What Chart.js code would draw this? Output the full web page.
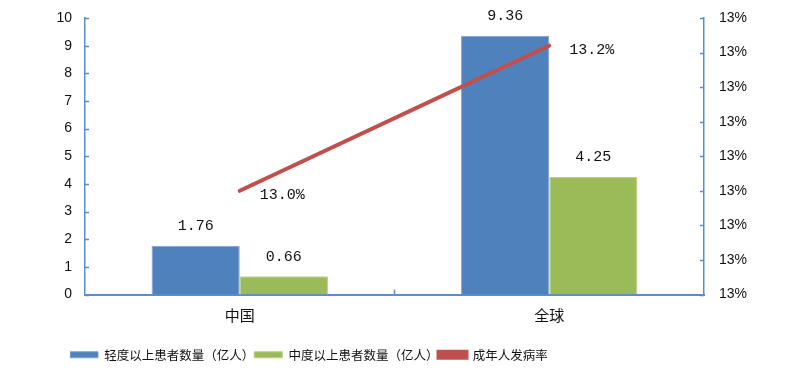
<!DOCTYPE html>
<html>
<head>
<meta charset="utf-8">
<script src="https://cdn.jsdelivr.net/npm/chart.js@4.4.3/dist/chart.umd.min.js"></script>
<style>
  html, body { margin: 0; padding: 0; background: #ffffff; }
  #wrap { width: 800px; height: 386px; position: relative; }
</style>
</head>
<body>
<div id="wrap"><canvas id="chart" width="800" height="386"></canvas></div>
<script>
const categories = ["中国", "全球"];
const mildPatients = [1.76, 9.36];
const moderatePatients = [0.66, 4.25];
const adultRate = [0.13, 0.1321];
const seriesNames = ["轻度以上患者数量（亿人）", "中度以上患者数量（亿人）", "成年人发病率"];

const axisColor = "#5b8dcc";
const textColor = "#111111";
const cjkFont = "'Noto Sans CJK SC', 'Noto Sans', sans-serif";
const numFont = "'Liberation Mono', 'DejaVu Sans Mono', monospace";

// small inward tick marks like the original office chart
const innerTicks = {
  id: "innerTicks",
  afterDraw(chart) {
    const { ctx, chartArea, scales } = chart;
    ctx.save();
    ctx.strokeStyle = axisColor;
    ctx.lineWidth = 1.5;
    ctx.beginPath();
    scales.y.ticks.forEach((t) => {
      const y = Math.round(scales.y.getPixelForValue(t.value)) + 0.5;
      ctx.moveTo(chartArea.left, y);
      ctx.lineTo(chartArea.left + 4, y);
    });
    scales.y1.ticks.forEach((t) => {
      const y = Math.round(scales.y1.getPixelForValue(t.value)) + 0.5;
      ctx.moveTo(chartArea.right, y);
      ctx.lineTo(chartArea.right - 4, y);
    });
    const x0 = scales.x.getPixelForValue(0);
    const x1 = scales.x.getPixelForValue(1);
    const mid = (x0 + x1) / 2;
    ctx.moveTo(mid, chartArea.bottom);
    ctx.lineTo(mid, chartArea.bottom - 5);
    ctx.stroke();
    ctx.restore();
  },
};

// value labels on bars and line points
const valueLabels = {
  id: "valueLabels",
  afterDatasetsDraw(chart) {
    const { ctx } = chart;
    ctx.save();
    ctx.fillStyle = textColor;
    ctx.font = "15px " + numFont;
    chart.data.datasets.forEach((ds, di) => {
      const meta = chart.getDatasetMeta(di);
      meta.data.forEach((el, i) => {
        const v = ds.data[i];
        if (ds.type === "line") {
          ctx.textAlign = "left";
          ctx.textBaseline = "middle";
          ctx.fillText((v * 100).toFixed(1) + "%", el.x + 20, el.y + 4);
        } else {
          ctx.textAlign = "center";
          ctx.textBaseline = "bottom";
          ctx.fillText(v.toFixed(2), el.x, el.y - 12);
        }
      });
    });
    ctx.restore();
  },
};

// the legend sits left of centre in the original
const legendShift = {
  id: "legendShift",
  afterLayout(chart) {
    chart.legend.left = 70;
  },
};

function fitVertical(width) {
  return (scale) => {
    scale.width = width;
    scale.paddingTop = 0;
    scale.paddingBottom = 0;
  };
}

new Chart(document.getElementById("chart"), {
  data: {
    labels: categories,
    datasets: [
      {
        type: "bar",
        label: seriesNames[0],
        data: mildPatients,
        backgroundColor: "#4f81bd",
        borderColor: "#7ea3d3",
        borderWidth: 1,
        yAxisID: "y",
        order: 2,
      },
      {
        type: "bar",
        label: seriesNames[1],
        data: moderatePatients,
        backgroundColor: "#9bbb59",
        borderColor: "#b8d08a",
        borderWidth: 1,
        yAxisID: "y",
        order: 2,
      },
      {
        type: "line",
        label: seriesNames[2],
        data: adultRate,
        borderColor: "#c0504d",
        backgroundColor: "#c0504d",
        borderWidth: 4,
        pointRadius: 0,
        borderCapStyle: "round",
        yAxisID: "y1",
        order: 1,
      },
    ],
  },
  options: {
    responsive: false,
    animation: false,
    layout: { padding: { top: 18, left: 0, right: 0, bottom: 15 } },
    datasets: {
      bar: { barPercentage: 1, categoryPercentage: 0.57 },
    },
    scales: {
      x: {
        offset: true,
        grid: { display: false, drawTicks: false },
        border: { display: true, color: axisColor, width: 2 },
        ticks: { color: textColor, font: { family: cjkFont, size: 15 }, padding: 12 },
        afterFit(scale) { scale.height = 54; },
      },
      y: {
        position: "left",
        min: 0,
        max: 10,
        ticks: { stepSize: 1, color: textColor, font: { family: "'Liberation Sans', Arial, sans-serif", size: 14 }, padding: 13 },
        grid: { display: false, drawTicks: false },
        border: { display: true, color: axisColor, width: 1.5 },
        afterFit: fitVertical(85),
      },
      y1: {
        position: "right",
        min: 0.1285,
        max: 0.1325,
        ticks: {
          stepSize: 0.0005,
          color: textColor,
          font: { family: "'Liberation Sans', Arial, sans-serif", size: 14 },
          padding: 15,
          callback(value) { return Math.round(value * 100) + "%"; },
        },
        grid: { display: false, drawTicks: false },
        border: { display: true, color: axisColor, width: 1.5 },
        afterFit: fitVertical(96),
      },
    },
    plugins: {
      legend: {
        position: "bottom",
        align: "start",
        labels: {
          color: textColor,
          font: { family: cjkFont, size: 12.5 },
          boxWidth: 28,
          boxHeight: 6,
          padding: 0,
          sort: (a, b) => a.datasetIndex - b.datasetIndex,
        },
      },
      tooltip: { enabled: false },
    },
  },
  plugins: [innerTicks, valueLabels, legendShift],
});
</script>
</body>
</html>
